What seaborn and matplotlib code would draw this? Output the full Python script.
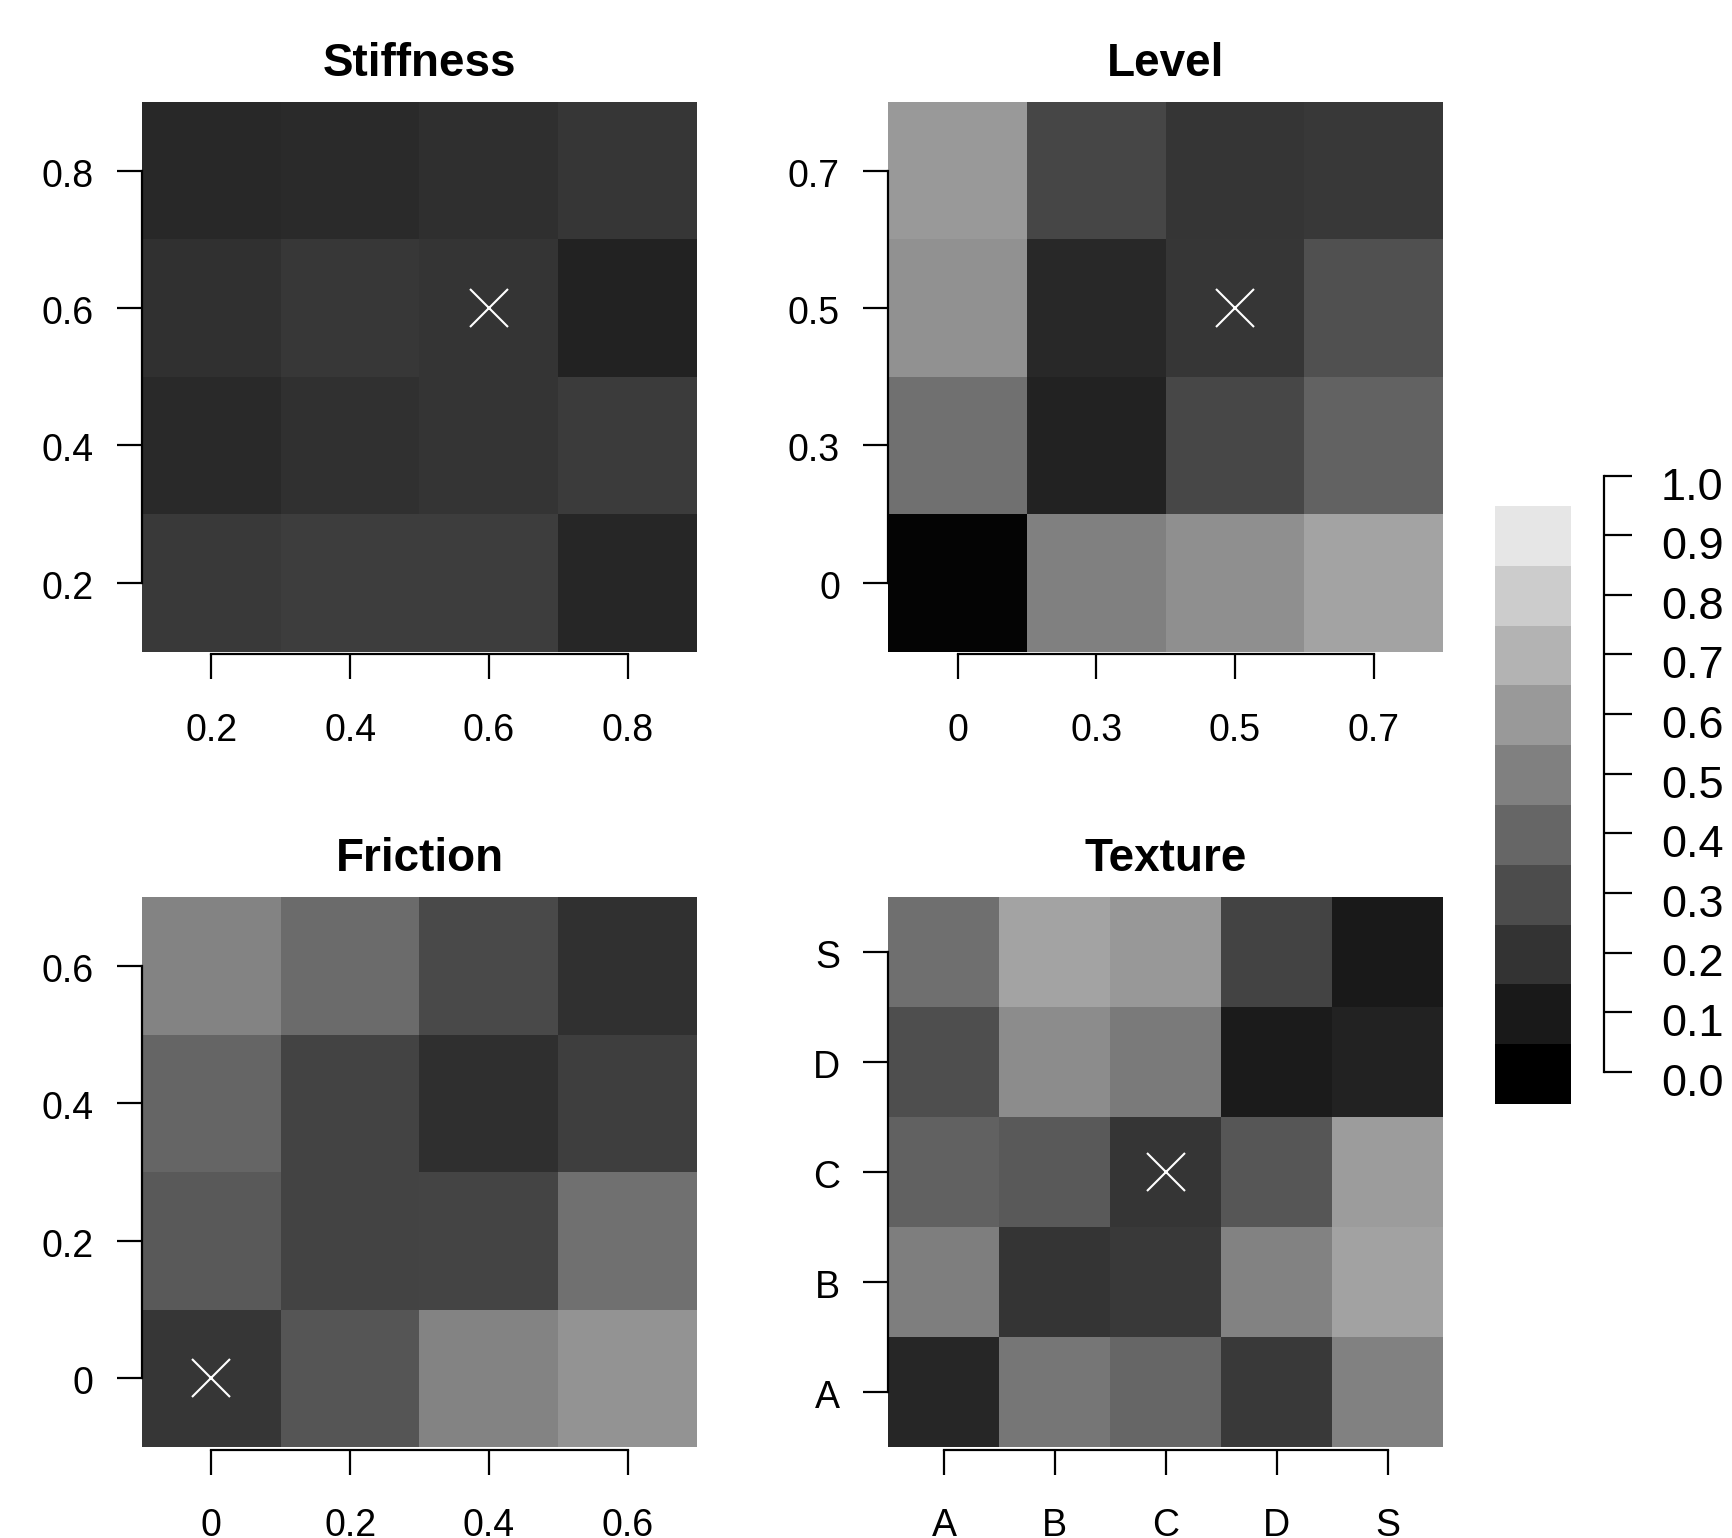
import matplotlib
matplotlib.use("Agg")
import matplotlib.pyplot as plt
import matplotlib.transforms as mtransforms
import numpy as np
import pandas as pd
import seaborn as sns

# grey-level values per panel, rows listed top to bottom
stiffness_x = ["0.2", "0.4", "0.6", "0.8"]
stiffness_y = ["0.8", "0.6", "0.4", "0.2"]
stiffness_vals = [
    [0.157, 0.165, 0.184, 0.212],
    [0.188, 0.216, 0.204, 0.133],
    [0.161, 0.188, 0.204, 0.231],
    [0.224, 0.239, 0.239, 0.149],
]
stiffness_best = ("0.6", "0.6")

level_x = ["0", "0.3", "0.5", "0.7"]
level_y = ["0.7", "0.5", "0.3", "0"]
level_vals = [
    [0.600, 0.275, 0.208, 0.220],
    [0.569, 0.157, 0.212, 0.314],
    [0.439, 0.133, 0.278, 0.384],
    [0.016, 0.502, 0.561, 0.639],
]
level_best = ("0.5", "0.5")

friction_x = ["0", "0.2", "0.4", "0.6"]
friction_y = ["0.6", "0.4", "0.2", "0"]
friction_vals = [
    [0.514, 0.420, 0.286, 0.188],
    [0.396, 0.263, 0.184, 0.243],
    [0.349, 0.263, 0.267, 0.439],
    [0.212, 0.333, 0.514, 0.576],
]
friction_best = ("0", "0")

texture_x = ["A", "B", "C", "D", "S"]
texture_y = ["S", "D", "C", "B", "A"]
texture_vals = [
    [0.435, 0.639, 0.596, 0.263, 0.098],
    [0.306, 0.549, 0.478, 0.106, 0.133],
    [0.380, 0.349, 0.208, 0.337, 0.612],
    [0.494, 0.204, 0.224, 0.510, 0.635],
    [0.149, 0.463, 0.400, 0.224, 0.506],
]
texture_best = ("C", "C")

legend_levels = [0.9, 0.8, 0.7, 0.6, 0.5, 0.4, 0.3, 0.2, 0.1, 0.0]
legend_ticks = [0.0, 0.1, 0.2, 0.3, 0.4, 0.5, 0.6, 0.7, 0.8, 0.9, 1.0]

W, H = 1733, 1538
LABEL_SIZE = 27
TITLE_SIZE = 33

sns.set_theme(style="white")
plt.rcParams["font.family"] = ["Liberation Sans", "DejaVu Sans"]

fig = plt.figure(figsize=(W / 100, H / 100), dpi=100)
label_drop = mtransforms.ScaledTranslation(0, -0.06, fig.dpi_scale_trans)
legend_drop = mtransforms.ScaledTranslation(0, -0.08, fig.dpi_scale_trans)


def add_axes_px(x0, y0, x1, y1):
    return fig.add_axes([x0 / W, 1 - y1 / H, (x1 - x0) / W, (y1 - y0) / H])


def draw_panel(box, title, xlabels, ylabels, values, best):
    ax = add_axes_px(*box)
    frame = pd.DataFrame(values, index=ylabels, columns=xlabels)
    sns.heatmap(frame, cmap="gray", vmin=0, vmax=1, cbar=False, ax=ax)
    ax.set_xlabel("")
    ax.set_ylabel("")
    nx, ny = len(xlabels), len(ylabels)
    ax.set_xticks(np.arange(nx) + 0.5)
    ax.set_xticklabels(xlabels, rotation=0)
    ax.set_yticks(np.arange(ny) + 0.5)
    ax.set_yticklabels(ylabels, rotation=0)
    for side in ["left", "bottom"]:
        ax.spines[side].set_visible(True)
        ax.spines[side].set_color("black")
        ax.spines[side].set_linewidth(1.6)
    ax.spines["left"].set_bounds(0.5, ny - 0.5)
    ax.spines["bottom"].set_bounds(0.5, nx - 0.5)
    ax.spines["bottom"].set_position(("outward", 2))
    ax.tick_params(axis="both", direction="out", length=18, width=1.6,
                   color="black", labelsize=LABEL_SIZE, labelcolor="black")
    ax.tick_params(axis="x", pad=24, bottom=True)
    ax.tick_params(axis="y", pad=17, left=True)
    for lab in ax.get_yticklabels():
        lab.set_transform(lab.get_transform() + label_drop)
    bx = xlabels.index(best[0]) + 0.5
    by = ylabels.index(best[1]) + 0.5
    ax.plot([bx], [by], marker="x", color="white", markersize=28, mew=1.5)
    ax.set_title(title, fontsize=TITLE_SIZE, fontweight="bold", pad=19, color="black")
    return ax


draw_panel((142, 102, 697, 651.5), "Stiffness", stiffness_x, stiffness_y, stiffness_vals, stiffness_best)
draw_panel((888.5, 102, 1443, 651.5), "Level", level_x, level_y, level_vals, level_best)
draw_panel((142, 897, 697, 1447), "Friction", friction_x, friction_y, friction_vals, friction_best)
draw_panel((888.5, 897, 1443, 1447), "Texture", texture_x, texture_y, texture_vals, texture_best)

# stepped grey legend
bar = add_axes_px(1495, 506, 1571, 1104)
sns.heatmap(pd.DataFrame({"v": legend_levels}), cmap="gray", vmin=0, vmax=1,
            cbar=False, ax=bar, xticklabels=False, yticklabels=False)
bar.set_xlabel("")
bar.set_ylabel("")

scale = add_axes_px(1603, 475.7, 1604, 1071.7)
scale.set_ylim(0, 1)
scale.set_xticks([])
for side in ["left", "top", "bottom"]:
    scale.spines[side].set_visible(False)
scale.spines["right"].set_visible(True)
scale.spines["right"].set_color("black")
scale.spines["right"].set_linewidth(1.6)
scale.spines["right"].set_bounds(0, 1)
scale.patch.set_alpha(0)
scale.yaxis.tick_right()
scale.set_yticks(legend_ticks)
scale.set_yticklabels([f"{t:.1f}" for t in legend_ticks])
scale.tick_params(axis="y", direction="out", length=20, width=1.6, color="black",
                  labelsize=32.5, labelcolor="black", pad=21, right=True)
for lab in scale.get_yticklabels():
    lab.set_transform(lab.get_transform() + legend_drop)

fig.savefig("out.png", dpi=100)
